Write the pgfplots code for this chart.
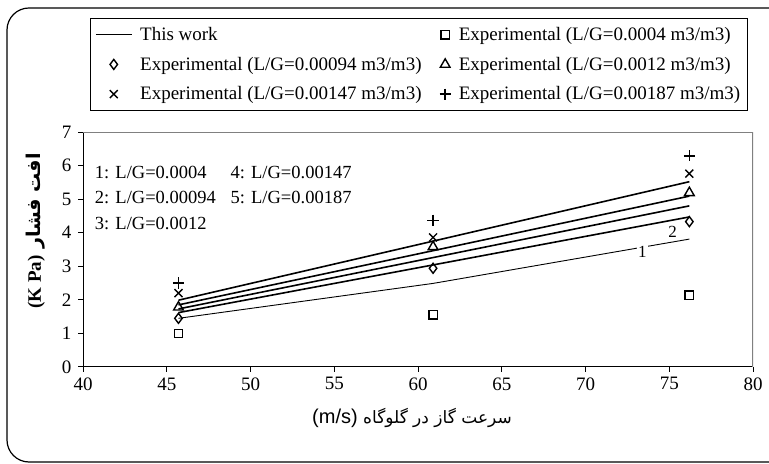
\documentclass[border=0pt]{standalone}
\usepackage{pgfplots}
\usepackage{pgfplotstable}
\pgfplotsset{compat=1.18}
\usepackage{fontspec}
\setmainfont{Liberation Serif}
\newfontfamily\arabicfont[Script=Arabic]{DejaVu Sans}
\newfontfamily\latinsans{Liberation Sans}
\TeXXeTstate=1

% model curves (this work), one per liquid/gas ratio
\pgfplotstableread{
x y
45.7 1.45
60.9 2.49
76.2 3.81
}\fitA
\pgfplotstableread{
x y
45.7 1.62
76.2 4.47
}\fitB
\pgfplotstableread{
x y
45.7 1.73
76.2 4.80
}\fitC
\pgfplotstableread{
x y
45.7 1.85
76.2 5.09
}\fitD
\pgfplotstableread{
x y
45.7 1.99
76.2 5.52
}\fitE

% measured pressure drop
\pgfplotstableread{
x y
45.7 1.00
60.9 1.55
76.2 2.14
}\expA
\pgfplotstableread{
x y
45.7 1.45
60.9 2.94
76.2 4.33
}\expB
\pgfplotstableread{
x y
45.7 1.78
60.9 3.58
76.2 5.19
}\expC
\pgfplotstableread{
x y
45.7 2.20
60.9 3.86
76.2 5.76
}\expD
\pgfplotstableread{
x y
45.7 2.50
60.9 4.37
76.2 6.29
}\expE

\begin{document}
\begin{tikzpicture}
\useasboundingbox (0,0) rectangle (769bp,464bp);
\draw[line width=1.2bp, rounded corners=22bp] (7bp,2bp) rectangle (800bp,456bp);
\begin{axis}[
  at={(83bp,97bp)}, anchor=south west,
  scale only axis, width=670bp, height=235bp,
  xmin=40, xmax=80, ymin=0, ymax=7,
  xtick={40,45,...,80}, ytick={0,1,...,7},
  axis lines*=left,
  axis line style={line width=1bp, black},
  tick align=outside, major tick length=5bp,
  tick style={line width=1bp, black},
  ticklabel style={font=\fontsize{19bp}{22bp}\selectfont},
  /pgf/number format/assume math mode=true,
  xticklabel style={yshift=-2bp},
  yticklabel style={xshift=-3bp},
  legend columns=2,
  legend cell align=left,
  legend style={at={(axis description cs:0.0104,1.4851)}, anchor=north west,
    draw=black, line width=0.8bp, fill=white,
    font=\fontsize{19bp}{21bp}\selectfont,
    nodes={inner sep=2bp},
    row sep=11bp, inner xsep=5bp, inner ysep=7bp,
    /tikz/every odd column/.append style={column sep=6bp},
    /tikz/every even column/.append style={column sep=16bp}},
  every axis plot/.append style={line width=1.6bp, black},
]
\draw[gray, line width=1.5bp] (rel axis cs:0,1) -- (rel axis cs:1,1) -- (rel axis cs:1,0);

\addplot[line width=0.9bp, no marks,
  legend image code/.code={\draw[line width=0.8bp] (0.3cm-18bp,0cm) -- (0.3cm+18bp,0cm);}]
  table {\fitA};
\addlegendentry{This work}
\addplot[no marks, forget plot] table {\fitB};
\addplot[no marks, forget plot] table {\fitC};
\addplot[no marks, forget plot] table {\fitD};
\addplot[no marks, forget plot] table {\fitE};

\addplot[only marks, mark=square, mark size=4.2bp, mark options={line width=1.4bp, fill=white}] table {\expA};
\addlegendentry{Experimental (L/G=0.0004 m3/m3)}
\addplot[only marks, mark=diamond, mark size=5bp, mark options={line width=1.4bp, fill=white}] table {\expB};
\addlegendentry{Experimental (L/G=0.00094 m3/m3)}
\addplot[only marks, mark=triangle, mark size=5.6bp, mark options={line width=1.4bp, fill=white}] table {\expC};
\addlegendentry{Experimental (L/G=0.0012 m3/m3)}
\addplot[only marks, mark=x, mark size=5.6bp, mark options={line width=1.4bp}] table {\expD};
\addlegendentry{Experimental (L/G=0.00147 m3/m3)}
\addplot[only marks, mark=+, mark size=5.6bp, mark options={line width=1.4bp}] table {\expE};
\addlegendentry{Experimental (L/G=0.00187 m3/m3)}

% curve labels
\node[fill=white, inner sep=1.5bp, font=\fontsize{17bp}{20bp}\selectfont] at (axis cs:73.4,3.42) {1};
\node[fill=white, inner sep=1bp, font=\fontsize{17bp}{20bp}\selectfont] at (axis cs:75.2,4.02) {2};

% key for the curve numbers
\begin{scope}[every node/.style={anchor=west, inner sep=0pt, font=\fontsize{18.5bp}{21bp}\selectfont}]
\node at (axis cs:40.7,5.78) {1: L/G=0.0004};
\node at (axis cs:40.7,5.04) {2: L/G=0.00094};
\node at (axis cs:40.7,4.29) {3: L/G=0.0012};
\node at (axis cs:48.8,5.78) {4: L/G=0.00147};
\node at (axis cs:48.8,5.04) {5: L/G=0.00187};
\end{scope}
\end{axis}

\node[rotate=90, font=\fontsize{19bp}{22bp}\selectfont\bfseries] at (36bp,233bp)
  {\arabicfont\beginR افت فشار \beginL{\rmfamily\bfseries(K Pa)}\endL\endR};
\node[font=\fontsize{17bp}{22bp}\selectfont] at (412bp,46bp)
  {\arabicfont\beginR سرعت گاز در گلوگاه \beginL{\latinsans\fontsize{20bp}{22bp}\selectfont(m/s)}\endL\endR};
\end{tikzpicture}
\end{document}
